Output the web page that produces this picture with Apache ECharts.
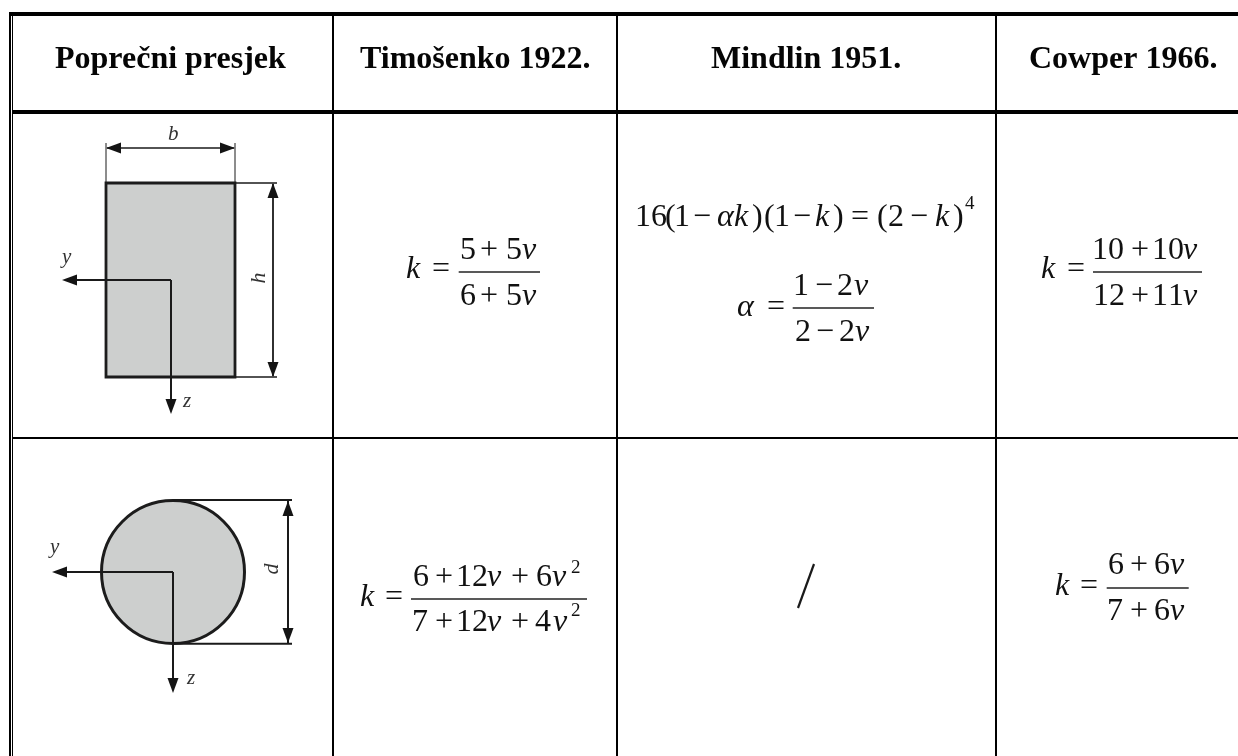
<!DOCTYPE html>
<html><head><meta charset="utf-8">
<style>html,body{margin:0;padding:0;background:#fff}#c{width:1238px;height:756px}</style>
<script src="https://cdn.jsdelivr.net/npm/echarts@6/dist/echarts.min.js"></script>
</head><body><div id="c"></div>
<script>
const headers = ['Poprečni presjek','Timošenko 1922.','Mindlin 1951.','Cowper 1966.'];
const headerX = [55,360,711,1029];
const headerBaseline = 69;
// [x1,y1,x2,y2,width]
const tableRules = [
 [10,12,10,756,2],[12.5,12,12.5,756,1],
 [9,14,1238,14,4],[13,112,1238,112,4],[13,438,1238,438,2],
 [333,14,333,756,2],[617,14,617,756,2],[996,14,996,756,2]
];
// diagram strokes [x1,y1,x2,y2,width]
const diagramLines = [
 [106,143,106,183,1],[235,143,235,183,1],[107,148,234,148,1.6],
 [235,183,277,183,1.6],[235,377,277,377,1.6],[273,184,273,376,1.8],
 [171,280,70,280,2],[171,280,171,405,2],
 [173,500,292,500,2],[173,643.7,292,643.7,2],[288,501,288,643,2],
 [173,572,60,572,2],[173,572,173,685,2],
 [814,564,798,608,2.2]
];
// arrowheads [tipX,tipY,dirX,dirY]
const arrowTips = [
 [106,148,1,0],[235,148,-1,0],[273,183,0,1],[273,377,0,-1],[62,280,1,0],[171,414,0,-1],
 [288,501,0,1],[288,643,0,-1],[52,572,1,0],[173,693,0,-1]
];
const rectSection = [106,183,235,377];
const circleSection = [173,572,71.5];
const rotatedLabels = [['h',266,278],['d',279,569]];
const plainLabels = [['b',168,141],['y',62,264],['z',183,408],['y',50,554],['z',187,685]];
const fractionBars = [
 [458.7,540,272],[1093,1202,272],[792.7,874,308],[411,587,599],[1106.7,1188.7,588]
];
// [text, x, baseline, kind]  kind: n upright, i italic, s small upright
const formulaTokens = [
 ['k',406,279,'i'],['=',432,279,'n'],
 ['5',460,260,'n'],['+',480,260,'n'],['5',506,260,'n'],['ν',522,260,'i'],
 ['6',460,306,'n'],['+',480,306,'n'],['5',506,306,'n'],['ν',522,306,'i'],
 ['16',635,227,'n'],['(',665,227,'n'],['1',674,227,'n'],['−',693,227,'n'],['α',717,227,'i'],['k',734,227,'i'],[')',752,227,'n'],
 ['(',764,227,'n'],['1',774,227,'n'],['−',793,227,'n'],['k',815,227,'i'],[')',833,227,'n'],['=',851,227,'n'],
 ['(',877,227,'n'],['2',888,227,'n'],['−',910,227,'n'],['k',935,227,'i'],[')',953,227,'n'],['4',965,210,'s'],
 ['α',737,317,'i'],['=',767,317,'n'],
 ['1',793,296,'n'],['−',815,296,'n'],['2',837,296,'n'],['ν',854,296,'i'],
 ['2',795,342,'n'],['−',816,342,'n'],['2',839,342,'n'],['ν',855,342,'i'],
 ['k',1041,279,'i'],['=',1067,279,'n'],
 ['10',1092,260,'n'],['+',1131,260,'n'],['10',1152,260,'n'],['ν',1183,260,'i'],
 ['12',1093,306,'n'],['+',1131,306,'n'],['1',1152,306,'n'],['1',1168,306,'n'],['ν',1183,306,'i'],
 ['k',360,607,'i'],['=',385,607,'n'],
 ['6',413,587,'n'],['+',435,587,'n'],['12',456,587,'n'],['ν',487,587,'i'],['+',511,587,'n'],['6',536,587,'n'],['ν',552,587,'i'],['2',571,574,'s'],
 ['7',412,632,'n'],['+',435,632,'n'],['12',456,632,'n'],['ν',487,632,'i'],['+',511,632,'n'],['4',535,632,'n'],['ν',553,632,'i'],['2',571,617,'s'],
 ['k',1055,596,'i'],['=',1080,596,'n'],
 ['6',1108,575,'n'],['+',1130,575,'n'],['6',1154,575,'n'],['ν',1170,575,'i'],
 ['7',1107,621,'n'],['+',1130,621,'n'],['6',1154,621,'n'],['ν',1170,621,'i']
];

const SERIF = '"Liberation Serif","Times New Roman",serif';
const INK = '#111';
const p = (api,x,y)=>api.coord([x,y]);
const idx = a => a.map((_,i)=>[i]);
// draws text so that its baseline sits on y
function baselineText(c,text,font,size,fill,align,rotation){
  const o={type:'text',x:c[0],y:c[1],style:{text,font:font+' '+size+'px '+SERIF,fill,textAlign:align||'left',verticalAlign:'middle',textVerticalAlign:'middle'}};
  const off=size*0.3;
  if(rotation){o.rotation=rotation;o.x=c[0]-off;}else{o.y=c[1]-off;}
  return o;
}
function lineSeries(name,arr,color,z){
  return {type:'custom',name,coordinateSystem:'cartesian2d',z,clip:false,silent:true,data:idx(arr),encode:{x:0,y:0},
    renderItem:(ps,api)=>{const r=arr[api.value(0)];const a=p(api,r[0],r[1]),b=p(api,r[2],r[3]);
      return {type:'line',shape:{x1:a[0],y1:a[1],x2:b[0],y2:b[1]},style:{stroke:color,lineWidth:r[4]}};}};
}
const option = {
  animation:false,backgroundColor:'#fff',
  grid:{left:0,right:0,top:0,bottom:0},
  xAxis:{type:'value',min:0,max:1238,show:false},
  yAxis:{type:'value',min:0,max:756,inverse:true,show:false},
  series:[
    {type:'custom',name:'sections',coordinateSystem:'cartesian2d',z:1,clip:false,silent:true,data:[[0],[1]],encode:{x:0,y:0},
      renderItem:(ps,api)=>{
        if(api.value(0)===0){const a=p(api,rectSection[0],rectSection[1]),b=p(api,rectSection[2],rectSection[3]);
          return {type:'rect',shape:{x:a[0],y:a[1],width:b[0]-a[0],height:b[1]-a[1]},style:{fill:'#cdcfce',stroke:'#1c1c1c',lineWidth:2.8}};}
        const c=p(api,circleSection[0],circleSection[1]);
        return {type:'circle',shape:{cx:c[0],cy:c[1],r:circleSection[2]},style:{fill:'#cdcfce',stroke:'#1c1c1c',lineWidth:3}};
      }},
    lineSeries('tableRules',tableRules,'#000',3),
    lineSeries('diagramLines',diagramLines,'#1a1a1a',2),
    {type:'custom',name:'arrows',coordinateSystem:'cartesian2d',z:4,clip:false,silent:true,data:idx(arrowTips),encode:{x:0,y:0},
      renderItem:(ps,api)=>{const r=arrowTips[api.value(0)];const L=15,H=5.5;
        const nx=-r[3],ny=r[2];
        const pts=[p(api,r[0],r[1]),p(api,r[0]+r[2]*L+nx*H,r[1]+r[3]*L+ny*H),p(api,r[0]+r[2]*L-nx*H,r[1]+r[3]*L-ny*H)];
        return {type:'polygon',shape:{points:pts},style:{fill:'#141414'}};}},
    lineSeries('fractionBars',fractionBars.map(b=>[b[0],b[2],b[1],b[2],1.5]),'#222',4),
    {type:'custom',name:'headers',coordinateSystem:'cartesian2d',z:5,clip:false,silent:true,data:idx(headers),encode:{x:0,y:0},
      renderItem:(ps,api)=>{const i=api.value(0);return baselineText(p(api,headerX[i],headerBaseline),headers[i],'bold',32,'#050505');}},
    {type:'custom',name:'formulas',coordinateSystem:'cartesian2d',z:5,clip:false,silent:true,data:idx(formulaTokens),encode:{x:0,y:0},
      renderItem:(ps,api)=>{const t=formulaTokens[api.value(0)];
        return baselineText(p(api,t[1],t[2]),t[0],t[3]==='i'?'italic':'normal',t[3]==='s'?19:32,INK);}},
    {type:'custom',name:'labels',coordinateSystem:'cartesian2d',z:5,clip:false,silent:true,data:idx(plainLabels),encode:{x:0,y:0},
      renderItem:(ps,api)=>{const t=plainLabels[api.value(0)];
        return baselineText(p(api,t[1],t[2]),t[0],'italic',21,'#333');}},
    {type:'custom',name:'rotatedLabels',coordinateSystem:'cartesian2d',z:5,clip:false,silent:true,data:idx(rotatedLabels),encode:{x:0,y:0},
      renderItem:(ps,api)=>{const t=rotatedLabels[api.value(0)];
        return baselineText(p(api,t[1],t[2]),t[0],'italic',22,'#333','center',Math.PI/2);}}
  ]
};
echarts.init(document.getElementById('c'),null,{renderer:'canvas'}).setOption(option);
</script></body></html>
